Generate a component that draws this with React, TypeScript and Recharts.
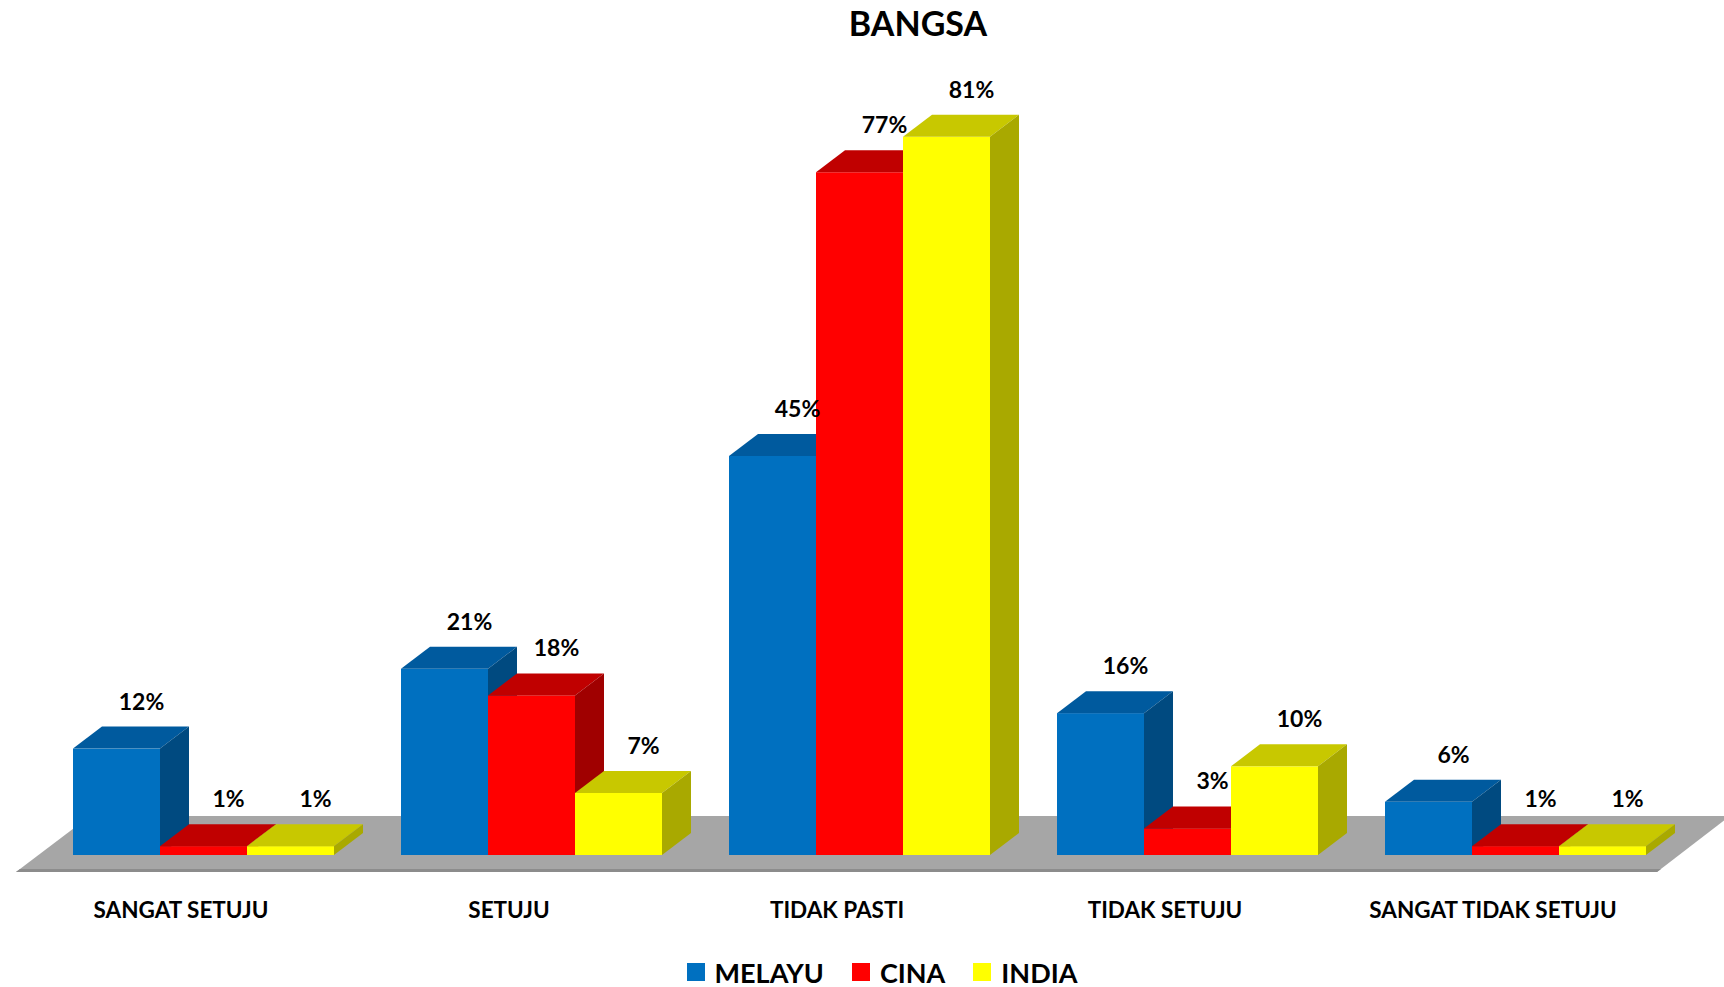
import React from "react";
import { BarChart, Bar, XAxis, YAxis, Legend, LabelList } from "recharts";

// survey answers by race
const categories = ["SANGAT SETUJU", "SETUJU", "TIDAK PASTI", "TIDAK SETUJU", "SANGAT TIDAK SETUJU"];
const melayu = [12, 21, 45, 16, 6];
const cina = [1, 18, 77, 3, 1];
const india = [1, 7, 81, 10, 1];

const series = [
  { key: "melayu", name: "MELAYU", front: "#0070C0", top: "#005A9E", side: "#004A80" },
  { key: "cina", name: "CINA", front: "#FF0000", top: "#C00000", side: "#A00000" },
  { key: "india", name: "INDIA", front: "#FFFF00", top: "#C8C800", side: "#A9A900" },
];

const chartData = categories.map((name, i) => ({
  name,
  melayu: melayu[i],
  cina: cina[i],
  india: india[i],
}));

const W = 1724;
const H = 987;
const margin = { top: 57, right: 45, left: 39, bottom: 32 };
const DX = 29;
const DY = 22;
const FONT = "Lato, 'Open Sans', sans-serif";

const makeShape = (s: any) => (props: any) => {
  const { x, y, width, height } = props;
  if (width == null || height == null) return null;
  const b = y + height;
  return (
    <g>
      <rect x={x} y={y} width={width} height={height} fill={s.front} />
      <polygon
        points={`${x},${y} ${x + DX},${y - DY} ${x + width + DX},${y - DY} ${x + width},${y}`}
        fill={s.top}
      />
      <polygon
        points={`${x + width},${y} ${x + width + DX},${y - DY} ${x + width + DX},${b - DY} ${x + width},${b}`}
        fill={s.side}
      />
    </g>
  );
};

const renderValue = (props: any) => {
  const { x, y, width, value } = props;
  return (
    <text
      x={x + width / 2 + 25}
      y={y - DY - 17}
      textAnchor="middle"
      fontSize={23}
      fontWeight={700}
      fontFamily={FONT}
      fill="#000"
    >
      {value}%
    </text>
  );
};

const CategoryTick = (props: any) => {
  const { x, y, payload } = props;
  return (
    <text
      x={x - 22}
      y={y + 63}
      textAnchor="middle"
      fontSize={22.5}
      fontWeight={700}
      fontFamily={FONT}
      fill="#000"
    >
      {payload.value}
    </text>
  );
};

const LegendBox = () => (
  <div
    style={{
      height: 40,
      display: "flex",
      justifyContent: "center",
      alignItems: "center",
      paddingLeft: 40,
      fontFamily: FONT,
      fontWeight: 700,
      fontSize: 27,
      color: "#000",
    }}
  >
    {series.map((s, i) => (
      <div key={s.key} style={{ display: "flex", alignItems: "center", marginLeft: i ? 28 : 0 }}>
        <span style={{ width: 18, height: 18, background: s.front, marginRight: 10 }} />
        <span>{s.name}</span>
      </div>
    ))}
  </div>
);

// grey floor under the bars, following the plot area
const Floor = () => {
  const base = H - margin.bottom - 40 - 60;
  const front = base + 17;
  const back = base - 39;
  return (
    <svg width={W} height={H} style={{ position: "absolute", left: 0, top: 0 }}>
      <polygon
        points={`16,${front} 1657,${front} ${W + 6},${back} 90,${back}`}
        fill="#A6A6A6"
      />
      <polygon
        points={`16,${front} 1657,${front} 1661,${front - 3} 20,${front - 3}`}
        fill="#8C8C8C"
      />
    </svg>
  );
};

export default function App() {
  return (
    <div style={{ position: "relative", width: W, height: H, background: "#fff", fontFamily: FONT }}>
      <style>{`body{margin:0}`}</style>
      <Floor />
      <div
        style={{
          position: "absolute",
          left: 818,
          top: 3,
          width: 200,
          textAlign: "center",
          fontSize: 34,
          fontWeight: 700,
          lineHeight: "40px",
          color: "#000",
        }}
      >
        BANGSA
      </div>
      <div style={{ position: "absolute", left: 0, top: 0 }}>
        <BarChart width={W} height={H} data={chartData} margin={margin} barGap={0} barSize={87}>
          <XAxis
            dataKey="name"
            tickLine={false}
            axisLine={false}
            tickSize={0}
            tickMargin={0}
            interval={0}
            height={60}
            tick={<CategoryTick />}
          />
          <YAxis hide domain={[0, 90]} />
          <Legend
            verticalAlign="bottom"
            content={<LegendBox />}
            wrapperStyle={{ top: 952, bottom: "auto", left: 0, width: W, height: 40 }}
          />
          {series.map((s) => (
            <Bar
              key={s.key}
              dataKey={s.key}
              name={s.name}
              fill={s.front}
              shape={makeShape(s)}
              isAnimationActive={false}
            >
              <LabelList dataKey={s.key} content={renderValue} />
            </Bar>
          ))}
        </BarChart>
      </div>
    </div>
  );
}
